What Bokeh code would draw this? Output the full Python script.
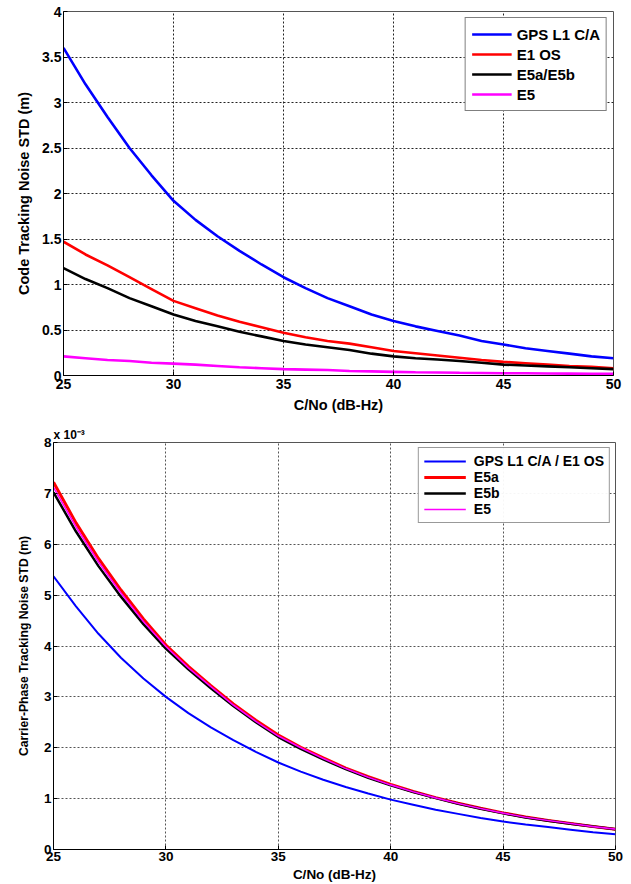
from bokeh.plotting import figure
from bokeh.models import Range1d, Legend, LegendItem, FixedTicker, Title
from bokeh.embed import file_html
from bokeh.resources import INLINE

# C/No axis (dB-Hz)
cn0 = [25, 26, 27, 28, 29, 30, 31, 32, 33, 34, 35, 36, 37, 38, 39, 40,
       41, 42, 43, 44, 45, 46, 47, 48, 49, 50]

# Code tracking noise STD (m)
gps_code = [3.60, 3.20, 2.84, 2.50, 2.20, 1.92, 1.71, 1.53, 1.37, 1.22, 1.08, 0.96, 0.85,
            0.76, 0.67, 0.60, 0.54, 0.49, 0.44, 0.38, 0.34, 0.30, 0.27, 0.24, 0.21, 0.19]
e1os_code = [1.47, 1.33, 1.21, 1.08, 0.95, 0.82, 0.74, 0.66, 0.59, 0.53, 0.47, 0.42, 0.38,
             0.35, 0.31, 0.27, 0.245, 0.22, 0.195, 0.17, 0.15, 0.135, 0.12, 0.105, 0.095, 0.08]
e5ab_code = [1.18, 1.06, 0.96, 0.85, 0.76, 0.67, 0.60, 0.54, 0.48, 0.43, 0.38, 0.34, 0.31,
             0.28, 0.24, 0.21, 0.19, 0.175, 0.16, 0.14, 0.12, 0.11, 0.10, 0.09, 0.08, 0.07]
e5_code = [0.21, 0.19, 0.17, 0.16, 0.14, 0.13, 0.12, 0.105, 0.09, 0.08, 0.07, 0.065, 0.06,
           0.05, 0.045, 0.04, 0.035, 0.033, 0.03, 0.028, 0.025, 0.024, 0.022, 0.021, 0.02, 0.02]

# Carrier-phase tracking noise STD (x 1e-3 m)
gps_cp = [5.37, 4.78, 4.24, 3.77, 3.36, 3.00, 2.68, 2.40, 2.15, 1.92, 1.71, 1.53, 1.37,
          1.23, 1.10, 0.98, 0.88, 0.78, 0.70, 0.62, 0.55, 0.49, 0.44, 0.39, 0.34, 0.30]
e5a_cp = [7.22, 6.42, 5.72, 5.10, 4.53, 4.02, 3.60, 3.22, 2.86, 2.54, 2.25, 2.01, 1.80,
          1.60, 1.43, 1.28, 1.14, 1.02, 0.91, 0.81, 0.72, 0.64, 0.57, 0.51, 0.45, 0.40]
e5b_cp = [7.02, 6.25, 5.57, 4.97, 4.43, 3.95, 3.54, 3.17, 2.82, 2.50, 2.21, 1.98, 1.77,
          1.58, 1.41, 1.26, 1.13, 1.01, 0.90, 0.80, 0.71, 0.63, 0.565, 0.505, 0.45, 0.40]
e5_cp = [7.12, 6.34, 5.65, 5.04, 4.48, 3.99, 3.57, 3.20, 2.84, 2.52, 2.23, 2.00, 1.79,
         1.59, 1.42, 1.27, 1.135, 1.015, 0.905, 0.805, 0.715, 0.635, 0.57, 0.51, 0.45, 0.40]

top_labels = ["GPS L1 C/A", "E1 OS", "E5a/E5b", "E5"]
bot_labels = ["GPS L1 C/A / E1 OS", "E5a", "E5b", "E5"]
colors = ["#0000FF", "#FF0000", "#000000", "#FF00FF"]

FONT = "Liberation Sans"


def style(p, xticks, yticks, tick_size, label_size, grid_color):
    p.xaxis.ticker = FixedTicker(ticks=xticks)
    p.yaxis.ticker = FixedTicker(ticks=yticks)
    for ax in (p.xaxis[0], p.yaxis[0]):
        ax.major_label_text_font = FONT
        ax.major_label_text_font_style = "bold"
        ax.major_label_text_font_size = tick_size
        ax.major_label_text_color = "black"
        ax.axis_label_text_font = FONT
        ax.axis_label_text_font_style = "bold"
        ax.axis_label_text_font_size = label_size
        ax.axis_label_text_color = "black"
        ax.axis_line_color = "black"
        ax.axis_line_width = 1
        ax.major_tick_in = 4
        ax.major_tick_out = 0
        ax.minor_tick_line_color = None
        ax.major_label_standoff = 2
        ax.axis_label_standoff = 2
    p.xgrid.grid_line_color = grid_color
    p.ygrid.grid_line_color = grid_color
    p.xgrid.grid_line_dash = "2 2"
    p.ygrid.grid_line_dash = "2 2"
    p.xgrid.grid_line_width = 1
    p.ygrid.grid_line_width = 1
    p.outline_line_color = "#555555"
    p.outline_line_width = 1
    p.background_fill_color = "white"
    p.border_fill_color = "white"


# ---------- Top figure ----------
p1 = figure(width=631, height=418, output_backend="svg", toolbar_location=None,
            x_range=Range1d(25, 50), y_range=Range1d(0, 4),
            min_border_left=63, min_border_right=18, min_border_top=11, min_border_bottom=43)
p1.xaxis.axis_label = "C/No (dB-Hz)"
p1.yaxis.axis_label = "Code Tracking Noise STD (m)"
style(p1, [25, 30, 35, 40, 45, 50], [0, 0.5, 1, 1.5, 2, 2.5, 3, 3.5, 4], "14px", "14.5px", "#222222")
p1.yaxis.major_label_overrides = {0: "0", 1: "1", 2: "2", 3: "3", 4: "4"}
p1.yaxis.axis_label_standoff = 7
p1.xaxis.major_label_standoff = 3
p1.xaxis.axis_label_standoff = 5

r_items = []
for ys, c, lab in zip([gps_code, e1os_code, e5ab_code, e5_code], colors, top_labels):
    r = p1.line(cn0, ys, line_color=c, line_width=2.6)
    r_items.append(LegendItem(label=lab, renderers=[r]))

leg1 = Legend(items=r_items, location="top_right")
leg1.label_text_font = FONT
leg1.label_text_font_style = "bold"
leg1.label_text_font_size = "15px"
leg1.label_text_color = "black"
leg1.glyph_width = 40
leg1.glyph_height = 20
leg1.label_height = 20
leg1.spacing = 0
leg1.padding = 6
leg1.margin = 6
leg1.label_standoff = 5
leg1.border_line_color = "black"
leg1.border_line_width = 1
leg1.background_fill_alpha = 1
p1.add_layout(leg1, "center")

# ---------- Bottom figure ----------
p2 = figure(width=631, height=466, output_backend="svg", toolbar_location=None,
            x_range=Range1d(25, 50), y_range=Range1d(0, 8),
            min_border_left=53, min_border_right=16, min_border_top=24, min_border_bottom=34)
p2.xaxis.axis_label = "C/No (dB-Hz)"
p2.yaxis.axis_label = "Carrier-Phase Tracking Noise STD (m)"
style(p2, [25, 30, 35, 40, 45, 50], [0, 1, 2, 3, 4, 5, 6, 7, 8], "13.5px", "13.5px", "#555555")
p2.xaxis.axis_label_standoff = 3
p2.xaxis.major_label_standoff = 2
p2.yaxis.axis_label_text_font_size = "12.2px"
p2.yaxis.axis_label_standoff = 10

ttl = Title(text="x 10\u207b\u00b3", align="left", text_font=FONT, text_font_style="bold",
            text_font_size="12px", text_color="black", offset=0, standoff=1)
p2.add_layout(ttl, "above")

b_items = []
widths = [2, 3, 2.5, 1.6]
for ys, c, lab, w in zip([gps_cp, e5a_cp, e5b_cp, e5_cp], colors, bot_labels, widths):
    r = p2.line(cn0, ys, line_color=c, line_width=w)
    b_items.append(LegendItem(label=lab, renderers=[r]))

leg2 = Legend(items=b_items, location="top_right")
leg2.label_text_font = FONT
leg2.label_text_font_style = "bold"
leg2.label_text_font_size = "14px"
leg2.label_text_color = "black"
leg2.glyph_width = 42
leg2.glyph_height = 16
leg2.label_height = 16
leg2.spacing = 0
leg2.padding = 5
leg2.margin = 5
leg2.label_standoff = 8
leg2.border_line_color = "#333333"
leg2.border_line_width = 1
p2.add_layout(leg2, "center")

open("out.html", "w").write(file_html([p1, p2], INLINE))
